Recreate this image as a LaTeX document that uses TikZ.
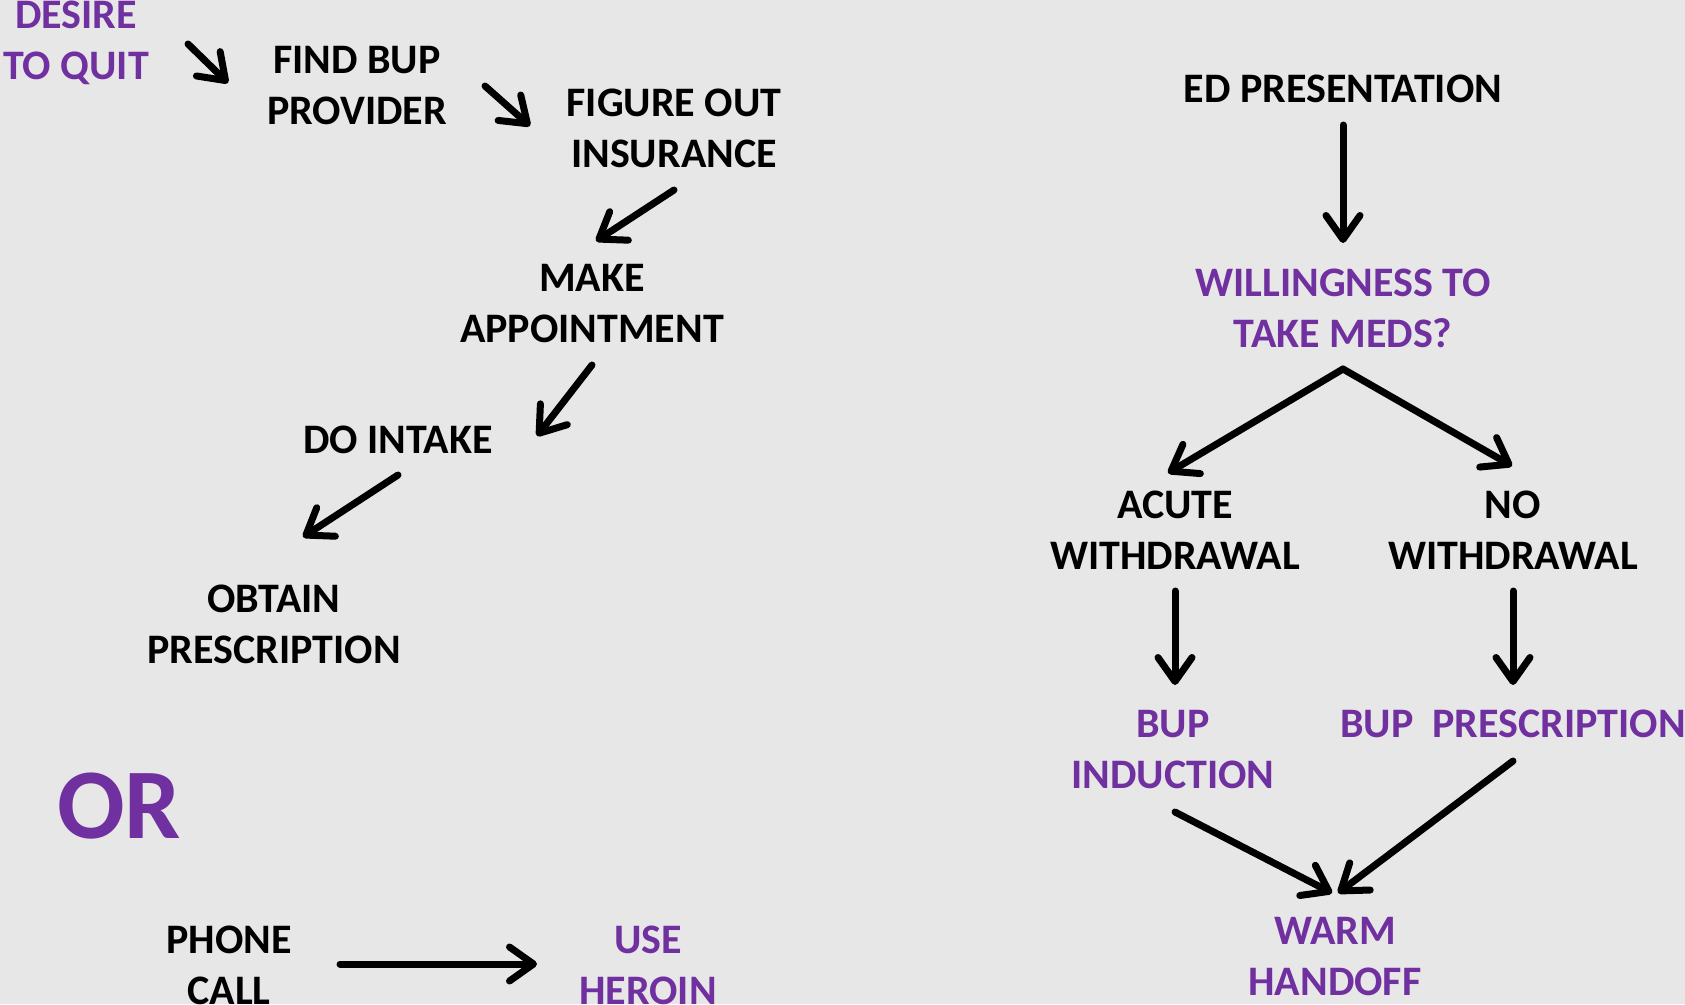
\documentclass[tikz,border=0pt]{standalone}
\usepackage{fontspec}
\setmainfont{Carlito}
\usetikzlibrary{arrows.meta,calc}
\definecolor{medpurple}{HTML}{7030A0}
\definecolor{slidegray}{HTML}{E7E7E7}

\begin{document}
\begin{tikzpicture}[
  x=1pt, y=-1pt,
  font=\fontsize{42}{51}\selectfont\bfseries,
  stepnode/.style={align=center, inner sep=0pt},
  goalnode/.style={stepnode, text=medpurple},
  arrow/.style={-{Straight Barb[length=24pt, width=34pt, line cap=round, line join=round]}, line width=7pt, line cap=round}
]
\fill[slidegray] (0,0) rectangle (1685,1004);
\useasboundingbox (0,0) rectangle (1685,1004);

% outpatient route
\node[goalnode] (desire) at (76,43) {DESIRE\\TO QUIT};
\node[stepnode] (findbup) at (357,86) {FIND BUP\\PROVIDER};
\node[stepnode] (insurance) at (674,128) {FIGURE OUT\\INSURANCE};
\node[stepnode] (appointment) at (592,304) {MAKE\\APPOINTMENT};
\node[stepnode] (intake) at (398,440) {DO INTAKE};
\node[stepnode] (obtain) at (274,624) {OBTAIN\\PRESCRIPTION};

\draw[arrow] ($(desire)+(112,1)$) -- ($(findbup)+(-129,-3)$);
\draw[arrow] ($(findbup)+(128,0)$) -- ($(insurance)+(-144,-2)$);
\draw[arrow] ($(insurance)+(0,62)$) -- ($(appointment)+(4,-63)$);
\draw[arrow] ($(appointment)+(0,61)$) -- ($(intake)+(139,-4)$);
\draw[arrow] ($(intake)+(0,35)$) -- ($(obtain)+(29,-87)$);

\node[goalnode, font=\fontsize{100}{110}\selectfont\bfseries] (orlabel) at (119,806) {OR};

\node[stepnode] (phone) at (229,965) {PHONE\\CALL};
\node[goalnode] (heroin) at (648,965) {USE\\HEROIN};
\draw[arrow] ($(phone)+(111,-1)$) -- ($(heroin)+(-111,-1)$);

% emergency department route
\node[stepnode] (edpres) at (1343,89) {ED PRESENTATION};
\node[goalnode] (willing) at (1343,308) {WILLINGNESS TO\\TAKE MEDS?};
\node[stepnode] (acute) at (1175,530) {ACUTE\\WITHDRAWAL};
\node[stepnode] (nowd) at (1513,530) {NO\\WITHDRAWAL};
\node[goalnode] (induction) at (1173,750) {BUP\\INDUCTION};
\node[goalnode] (bupscript) at (1513,724) {BUP~~PRESCRIPTION};
\node[goalnode] (handoff) at (1335,957) {WARM\\HANDOFF};

\draw[arrow] ($(edpres)+(0,36)$) -- ($(willing)+(0,-65)$);
\draw[arrow] ($(willing)+(0,61)$) -- ($(acute)+(-7,-57)$);
\draw[arrow] ($(willing)+(0,61)$) -- ($(nowd)+(-1,-64)$);
\draw[arrow] ($(acute)+(0,61)$) -- ($(induction)+(2,-65)$);
\draw[arrow] ($(nowd)+(0,61)$) -- ($(bupscript)+(0,-39)$);
\draw[arrow] ($(induction)+(2,62)$) -- ($(handoff)+(-3,-64)$);
\draw[arrow] ($(bupscript)+(0,37)$) -- ($(handoff)+(3,-64)$);
\end{tikzpicture}
\end{document}
